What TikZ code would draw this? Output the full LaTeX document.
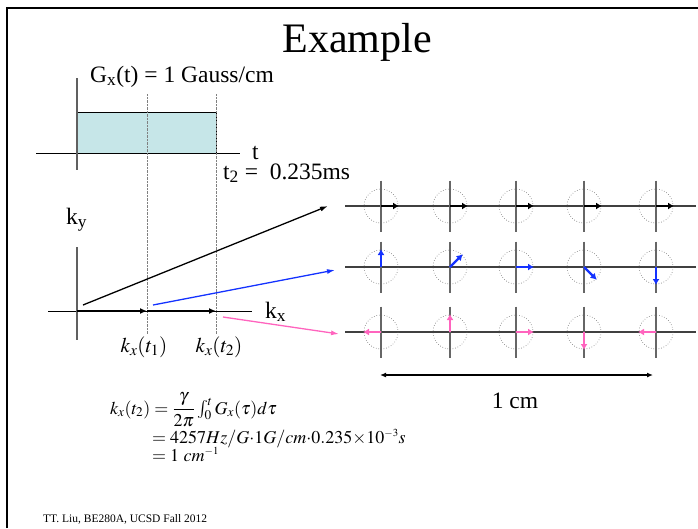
\documentclass[tikz,border=0pt]{standalone}
\usepackage{amsmath}
\usepackage{mathptmx}
\usepackage[no-math]{fontspec}
\setmainfont{Liberation Serif}
\usetikzlibrary{arrows.meta}
\definecolor{gfill}{RGB}{198,230,232}
\definecolor{kblue}{RGB}{20,50,255}
\definecolor{kpink}{RGB}{255,100,190}
\newcommand{\fs}[1]{\fontsize{#1}{#1}\selectfont}
\newcommand{\tinysup}[1]{^{\scriptscriptstyle #1}}

\tikzset{
  gaxis/.style={gray!75!black,line width=1.5pt},
  kstep/.style={line width=2.2pt,-{Latex[length=7pt,width=6pt]}},
  traj/.style={line width=1.3pt,-{Latex[length=8pt,width=5pt]}},
  vec/.style={line width=2.4pt,-{Latex[length=6pt,width=7pt]}},
  lab/.style={font=\fs{23.5},inner sep=0pt}
}

\begin{document}
\begin{tikzpicture}[x=1pt,y=-1pt]
  \useasboundingbox (0,0) rectangle (698,528);
  % slide frame
  \draw[line width=2pt] (7,528) -- (7,8) -- (698,8);
  \node[font=\fs{42},inner sep=0pt,anchor=base] (title) at (357,52) {Example};

  % gradient waveform
  \fill[gfill] (77,112) rectangle (216,153);
  \draw (77,112) -- (216,112) -- (216,153);
  \draw (36,153) -- (240,153);
  \draw[gaxis] (77,78) -- (77,170);
  \foreach \x in {147,216} \draw[densely dotted,gray,thin] (\x,94) -- (\x,334);
  \node[lab,anchor=base west] (gxlab) at (90,82) {G\textsubscript{x}(t) = 1 Gauss/cm};
  \node[lab,anchor=base west] (tlab) at (252,159) {t};
  \node[lab,anchor=base west] (ttwolab) at (223,179) {t\textsubscript{2} = \ 0.235ms};

  % k-space
  \draw (48,311) -- (252,311);
  \draw[gaxis] (77,247) -- (77,340);
  \node[lab,anchor=base west] (kylab) at (66,224) {k\textsubscript{y}};
  \node[lab,anchor=base west] (kxlab) at (265,318) {k\textsubscript{x}};
  \coordinate (k0) at (77,311);
  \coordinate (k1) at (147,311);
  \coordinate (k2) at (216,311);
  \draw[kstep] (k0) -- (k1);
  \draw[kstep] (k1) -- (k2);
  \node[font=\fs{21},inner sep=0pt,anchor=base] (kt1lab) at (144,352) {$k_x(t_1)$};
  \node[font=\fs{21},inner sep=0pt,anchor=base] (kt2lab) at (219,352) {$k_x(t_2)$};

  % pointers to the magnetisation rows
  \coordinate (ablack) at (83,305);
  \coordinate (zblack) at (328,206);
  \coordinate (ablue) at (153,305);
  \coordinate (zblue) at (335,270);
  \coordinate (apink) at (223,317);
  \coordinate (zpink) at (339,334);
  \draw[traj] (ablack) -- (zblack);
  \draw[traj,kblue] (ablue) -- (zblue);
  \draw[traj,kpink] (apink) -- (zpink);

  % rows of spins (angles are negated, y points down)
  \foreach \y in {206,267,332} \draw[gray!50!black,line width=1.1pt] (345,\y) -- (696,\y);
  \foreach \x/\a/\b in {381/-90/180, 450/-45/-90, 516/0/0, 584/45/90, 656/90/180} {
    \foreach \y in {206,267,332} {
      \draw[gray!80!black,line width=1.4pt] (\x,\y-25.5) -- (\x,\y+25.5);
      \draw[gray!80!black,dotted,line width=0.6pt] (\x,\y) circle[radius=17];
    }
    \draw[vec] (\x,206) -- ++(0:18);
    \draw[vec,kblue] (\x,267) -- ++(\a:18);
    \draw[vec,kpink] (\x,332) -- ++(\b:18);
  }
  \coordinate (cmL) at (380,375);
  \coordinate (cmR) at (653,375);
  \draw[line width=1.3pt,{Latex[length=6pt,width=5pt]}-{Latex[length=6pt,width=5pt]}] (cmL) -- (cmR);
  \node[lab,anchor=base] (cmlab) at (515,408) {1 cm};

  % k_x(t_2) worked out
  \node[font=\fs{18},inner sep=0pt,anchor=base west] (eqone) at (110,414)
    {$k_x(t_2)=\dfrac{\gamma}{2\pi}\textstyle\int_0^t G_x(\tau)d\tau$};
  \node[font=\fs{18},inner sep=0pt,anchor=base west] (eqtwo) at (152,443)
    {$=4257Hz/G{\cdot}1G/cm{\cdot}0.235{\times}10\tinysup{-3}s$};
  \node[font=\fs{18},inner sep=0pt,anchor=base west] (eqthree) at (152,461)
    {$=1\ cm\tinysup{-1}$};

  \node[font=\fs{11.5},inner sep=0pt,anchor=base west] (footer) at (43,522) {TT. Liu, BE280A, UCSD Fall 2012};
\end{tikzpicture}
\end{document}
